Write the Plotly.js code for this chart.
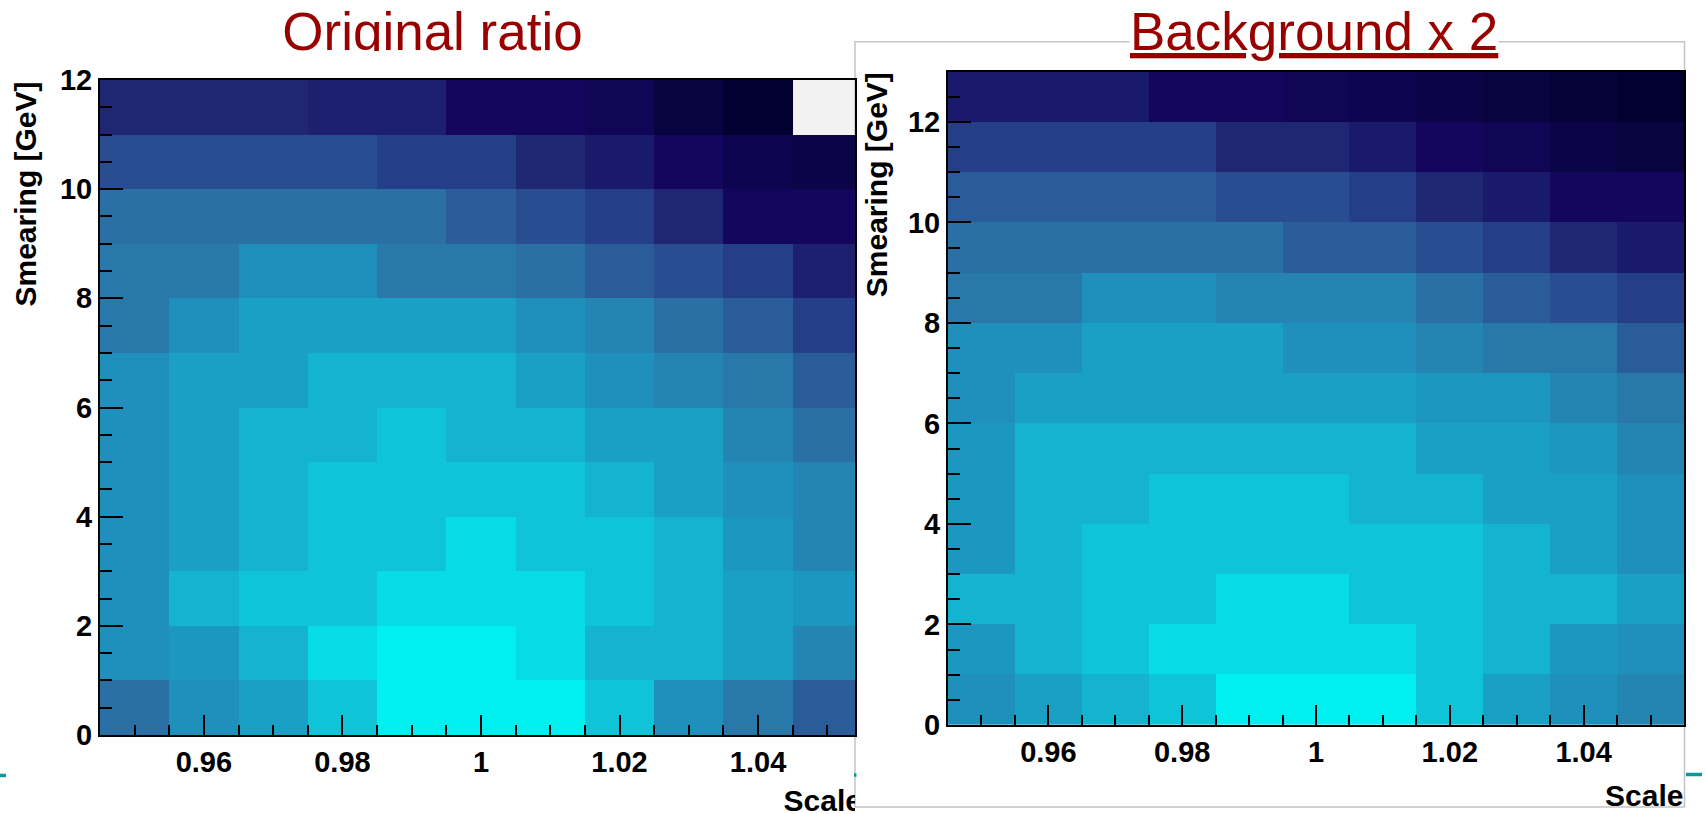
<!DOCTYPE html>
<html>
<head>
<meta charset="utf-8">
<script src="https://cdn.plot.ly/plotly-3.0.1.min.js"></script>
<style>html,body{margin:0;padding:0;background:#fff;overflow:hidden}</style>
</head>
<body>
<div id="chart" style="width:1706px;height:814px"></div>
<script>
// ---------------- data ----------------
const scaleBins = [0.95, 0.96, 0.97, 0.98, 0.99, 1.00, 1.01, 1.02, 1.03, 1.04, 1.05];
const smearingLeft = [0.5, 1.5, 2.5, 3.5, 4.5, 5.5, 6.5, 7.5, 8.5, 9.5, 10.5, 11.5];
const smearingRight = [0.5, 1.5, 2.5, 3.5, 4.5, 5.5, 6.5, 7.5, 8.5, 9.5, 10.5, 11.5, 12.5];

// relative level (rows: smearing bins from 0 upward)
const originalRatio = [
  [9, 12, 13, 15, 17, 17, 17, 15, 12, 10, 8],
  [12, 12.5, 14, 16, 17, 17, 16, 14, 14, 13, 11],
  [12, 14, 15, 15, 16, 16, 16, 15, 14, 13, 12.5],
  [12, 13, 14, 15, 15, 16, 15, 15, 14, 12.5, 11],
  [12, 13, 14, 15, 15, 15, 15, 14, 13, 12, 11],
  [12, 13, 14, 14, 15, 14, 14, 13, 13, 11, 9],
  [12, 13, 13, 14, 14, 14, 13, 12, 11, 10, 8],
  [10, 12, 13, 13, 13, 13, 12, 11, 9, 8, 6],
  [10, 10, 12, 12, 10, 10, 9, 8, 7, 6, 4.5],
  [9, 9, 9, 9, 9, 8, 7, 6, 5, 3, 3],
  [7, 7, 7, 7, 6, 6, 5, 4, 3, 2, 1.5],
  [5, 5, 5, 4.5, 4.5, 3, 3, 2.5, 1, 0, null]
];
const backgroundX2 = [
  [12, 13, 14, 15, 17, 17, 17, 15, 13, 12, 11],
  [12.5, 14, 15, 16, 16, 16, 16, 15, 14, 12.5, 12],
  [14, 14, 15, 15, 16, 16, 15, 15, 14, 14, 13],
  [12.5, 14, 15, 15, 15, 15, 15, 15, 14, 13, 12],
  [12.5, 14, 14, 15, 15, 15, 14, 14, 13, 13, 12],
  [12.5, 14, 14, 14, 14, 14, 14, 13, 13, 12.5, 11],
  [12, 13, 13, 13, 13, 13, 13, 12.5, 12.5, 11, 10],
  [12, 12, 13, 13, 13, 12, 12, 11, 10, 10, 8],
  [10, 10, 12, 12, 11, 11, 11, 9, 8, 7, 6],
  [9, 9, 9, 9, 9, 8, 8, 7, 6, 5, 4],
  [8, 8, 8, 8, 7, 7, 6, 5, 4, 3, 3],
  [6, 6, 6, 6, 5, 5, 4, 3, 2.5, 1.5, 1],
  [4, 4, 4, 3, 3, 2.5, 2, 1.5, 1, 0.5, 0]
];

const panelTitles = ['Original ratio', 'Background x 2'];
const xTitle = 'Scale';
const yTitle = 'Smearing [GeV]';

// ---------------- style ----------------
const palette = ['#020030','#080440','#0e0550','#14065c','#1a1a6c','#1f2672','#243f88','#284e91',
  '#2a5c9a','#2a70a5','#2878aa','#2484b2','#1e90bb','#1aa0c4','#14b4d0','#10c4d8','#08dce4','#00f0f0'];
const colorscale = palette.map((c, i) => [i / (palette.length - 1), c]);

const W = 1706, H = 814;
const px = x => x / W;
const py = y => 1 - y / H;

const FONT = 'Liberation Sans, Arial, Helvetica, sans-serif';
const tickFont = {family: FONT, size: 29, color: '#000', weight: 'bold'};
const titleRed = '#990000';

function xAxis(domain, range, anchor) {
  return {
    domain: domain, range: range, anchor: anchor,
    dtick: 0.02, tick0: 0, ticks: 'inside', ticklen: 20, tickwidth: 2, tickcolor: '#000',
    minor: {dtick: 0.005, ticks: 'inside', ticklen: 10, tickwidth: 2, tickcolor: '#000'},
    showline: true, linecolor: '#000', linewidth: 2, mirror: true,
    showgrid: false, zeroline: false, tickfont: tickFont, fixedrange: true
  };
}
function yAxis(domain, range, anchor) {
  return {
    domain: domain, range: range, anchor: anchor,
    dtick: 2, tick0: 0, ticks: 'inside', ticklen: 23, tickwidth: 2, tickcolor: '#000',
    minor: {dtick: 0.5, ticks: 'inside', ticklen: 12, tickwidth: 2, tickcolor: '#000'},
    showline: true, linecolor: '#000', linewidth: 2, mirror: true,
    showgrid: false, zeroline: false, tickfont: tickFont, fixedrange: true
  };
}
const hidden = (domain, range, anchor) => ({domain: domain, range: range, anchor: anchor,
  visible: false, showgrid: false, zeroline: false, fixedrange: true});

const traces = [
  {type: 'heatmap', x: scaleBins, y: smearingLeft, z: originalRatio, xaxis: 'x', yaxis: 'y',
   colorscale: colorscale, zmin: 0, zmax: 17, showscale: false, hoverongaps: false},
  {type: 'heatmap', x: scaleBins, y: smearingRight, z: backgroundX2, xaxis: 'x2', yaxis: 'y2',
   colorscale: colorscale, zmin: 0, zmax: 17, showscale: false},
  // left title, clipped at its lower edge like the original picture
  {type: 'scatter', mode: 'text', x: [432.5], y: [36.5], text: [panelTitles[0]],
   textposition: 'middle center', cliponaxis: true, hoverinfo: 'skip', showlegend: false,
   textfont: {family: FONT, size: 53, color: titleRed}, xaxis: 'x3', yaxis: 'y3'},
  // left x-axis title, partly hidden under the right panel
  {type: 'scatter', mode: 'text', x: [862], y: [803.5], text: [xTitle],
   textposition: 'middle left', cliponaxis: true, hoverinfo: 'skip', showlegend: false,
   textfont: {family: FONT, size: 30, color: '#000', weight: 'bold'}, xaxis: 'x4', yaxis: 'y4'}
];

const layout = {
  width: W, height: H, margin: {l: 0, r: 0, t: 0, b: 0},
  paper_bgcolor: '#ffffff', plot_bgcolor: 'rgba(0,0,0,0)', showlegend: false,
  xaxis: xAxis([px(100), px(855)], [0.945, 1.054], 'y'),
  yaxis: yAxis([py(735), py(80)], [0, 12], 'x'),
  xaxis2: xAxis([px(948), px(1684)], [0.945, 1.055], 'y2'),
  yaxis2: yAxis([py(725), py(71.7)], [0, 13], 'x2'),
  xaxis3: hidden([0, px(855)], [0, 855], 'y3'),
  yaxis3: hidden([py(51), 1], [51, 0], 'x3'),
  xaxis4: hidden([0, px(855)], [0, 855], 'y4'),
  yaxis4: hidden([0, py(750)], [814, 750], 'x4'),
  shapes: [
    // empty-bin background of the left histogram
    {type: 'rect', xref: 'x domain', yref: 'y domain', x0: 0, x1: 1, y0: 0, y1: 1,
     fillcolor: '#f2f2f2', line: {width: 0}, layer: 'below'},
    // frame of the right picture
    {type: 'rect', xref: 'paper', yref: 'paper', x0: px(855), x1: px(1684.5), y0: py(807), y1: py(41.7),
     fillcolor: 'rgba(0,0,0,0)', line: {color: '#c4c4c4', width: 1.5}, layer: 'below'},
    // slide rule peeking out between the pictures
    {type: 'line', xref: 'paper', yref: 'paper', x0: 0, x1: px(6), y0: py(775.5), y1: py(775.5),
     line: {color: '#0a9a9a', width: 3.5}, layer: 'above'},
    {type: 'line', xref: 'paper', yref: 'paper', x0: px(854), x1: px(856.5), y0: py(775), y1: py(775),
     line: {color: '#0a9a9a', width: 3.5}, layer: 'above'},
    {type: 'line', xref: 'paper', yref: 'paper', x0: px(1686), x1: px(1702), y0: py(774.5), y1: py(774.5),
     line: {color: '#0a9a9a', width: 3.5}, layer: 'above'}
  ],
  annotations: [
    {text: '<u>' + panelTitles[1] + '</u>', xref: 'paper', yref: 'paper', x: px(1314), y: py(31.6),
     xanchor: 'center', yanchor: 'middle', showarrow: false, bgcolor: '#ffffff', borderpad: 0,
     font: {family: FONT, size: 53, color: titleRed}},
    {text: yTitle, xref: 'paper', yref: 'paper', x: px(25), y: py(81), textangle: -90,
     xanchor: 'center', yanchor: 'top', showarrow: false, borderpad: 0,
     font: {family: FONT, size: 30, color: '#000', weight: 'bold'}},
    {text: yTitle, xref: 'paper', yref: 'paper', x: px(876), y: py(71.7), textangle: -90,
     xanchor: 'center', yanchor: 'top', showarrow: false, borderpad: 0,
     font: {family: FONT, size: 30, color: '#000', weight: 'bold'}},
    {text: xTitle, xref: 'paper', yref: 'paper', x: px(1684), y: py(795.6),
     xanchor: 'right', yanchor: 'middle', showarrow: false, borderpad: 0,
     font: {family: FONT, size: 30, color: '#000', weight: 'bold'}}
  ]
};

Plotly.newPlot('chart', traces, layout, {displayModeBar: false, staticPlot: true});
</script>
</body>
</html>
